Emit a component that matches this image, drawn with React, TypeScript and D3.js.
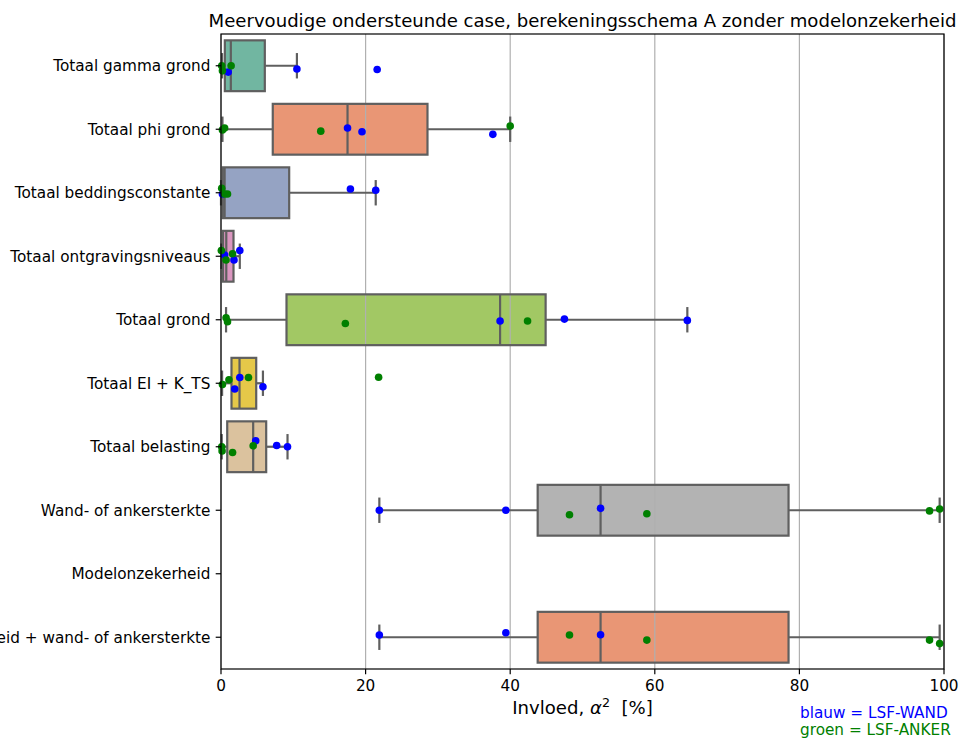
import React from "react";
import * as d3 from "d3";

// Categories shown on the y axis (top to bottom)
const categories = [
  "Totaal gamma grond",
  "Totaal phi grond",
  "Totaal beddingsconstante",
  "Totaal ontgravingsniveaus",
  "Totaal grond",
  "Totaal EI + K_TS",
  "Totaal belasting",
  "Wand- of ankersterkte",
  "Modelonzekerheid",
  "Modelonzekerheid + wand- of ankersterkte",
];

// Box statistics per category (null = no data)
const boxQ1 = [0.53, 7.16, 0.25, 0.28, 9.06, 1.45, 0.86, 43.8, null, 43.8];
const boxMedian = [1.36, 17.5, 0.5, 0.73, 38.6, 2.56, 4.45, 52.5, null, 52.5];
const boxQ3 = [6.06, 28.56, 9.43, 1.73, 44.9, 4.87, 6.25, 78.5, null, 78.5];
const whiskerLow = [0.15, 0.2, 0.0, 0.05, 0.7, 0.15, 0.1, 21.9, null, 21.9];
const whiskerHigh = [10.5, 40.0, 21.4, 2.6, 64.5, 5.8, 9.2, 99.4, null, 99.4];

// Influence values per category, LSF-WAND (blue)
const wandValues = [
  [1.0, 10.5, 21.6],
  [17.5, 19.5, 37.6],
  [0.2, 17.9, 21.4],
  [0.5, 1.8, 2.6],
  [38.6, 47.5, 64.5],
  [1.9, 2.6, 5.8],
  [4.8, 7.7, 9.2],
  [21.9, 39.4, 52.5],
  [],
  [21.9, 39.4, 52.5],
];
// strip jitter, as fraction of the category band
const wandJitter = [
  [0.1, 0.05, 0.06],
  [-0.02, 0.04, 0.08],
  [0.02, -0.06, -0.04],
  [-0.02, 0.06, -0.09],
  [0.02, -0.01, 0.01],
  [0.09, -0.09, 0.055],
  [-0.095, -0.02, 0.0],
  [0.0, 0.0, -0.03],
  [],
  [-0.035, -0.07, -0.04],
];

// Influence values per category, LSF-ANKER (green)
const ankerValues = [
  [0.1, 0.2, 1.4],
  [0.2, 0.5, 13.8, 40.0],
  [0.1, 0.5, 0.9],
  [0.05, 0.7, 1.6],
  [0.7, 0.9, 17.2, 42.4],
  [0.2, 1.1, 3.8, 21.8],
  [0.1, 0.15, 1.6, 4.45],
  [48.2, 58.9, 98.0, 99.4],
  [],
  [48.2, 58.9, 98.0, 99.4],
];
const ankerJitter = [
  [0.0, 0.08, 0.0],
  [0.01, -0.02, 0.03, -0.05],
  [-0.07, 0.02, 0.02],
  [-0.09, 0.06, -0.04],
  [-0.03, 0.03, 0.06, 0.02],
  [0.02, -0.055, -0.09, -0.095],
  [0.0, 0.065, 0.09, -0.015],
  [0.07, 0.055, 0.01, -0.02],
  [],
  [-0.035, 0.045, 0.045, 0.1],
];

const xTicks = [0, 20, 40, 60, 80, 100];

// seaborn Set2 palette at 0.75 saturation
const palette = [
  "#71b6a1",
  "#e99675",
  "#95a3c3",
  "#db96c0",
  "#a2c864",
  "#e5c849",
  "#dbc29e",
  "#b3b3b3",
];

const W = 960;
const H = 738;
const left = 221;
const right = 944;
const top = 34;
const bottom = 669;
const FONT = "'DejaVu Sans', sans-serif";
const LINE = "#5f5f5f";

export default function App() {
  const x = d3.scaleLinear().domain([0, 100]).range([left, right]);
  const y = d3.scaleBand<string>().domain(categories).range([top, bottom]).padding(0);
  const bw = y.bandwidth();
  const boxH = bw * 0.8;
  const capH = boxH * 0.5;
  const r = 3.8;

  const center = (i: number) => (y(categories[i]) as number) + bw / 2;

  return (
    <svg
      width={W}
      height={H}
      style={{ position: "absolute", left: 0, top: 0, background: "#fff" }}
      fontFamily={FONT}
    >
      {/* boxes */}
      {categories.map((c, i) => {
        const q1 = boxQ1[i];
        const q3 = boxQ3[i];
        if (q1 == null || q3 == null) return null;
        const cy = center(i);
        return (
          <rect
            key={"box" + i}
            x={x(q1)}
            y={cy - boxH / 2}
            width={x(q3) - x(q1)}
            height={boxH}
            fill={palette[i % palette.length]}
          />
        );
      })}

      {/* grid */}
      {xTicks.map((t) => (
        <line
          key={"g" + t}
          x1={x(t)}
          x2={x(t)}
          y1={top}
          y2={bottom}
          stroke="#b0b0b0"
          strokeWidth={1.2}
        />
      ))}

      {/* box outlines, whiskers, caps, medians */}
      {categories.map((c, i) => {
        const q1 = boxQ1[i];
        const q3 = boxQ3[i];
        const med = boxMedian[i];
        const lo = whiskerLow[i];
        const hi = whiskerHigh[i];
        if (q1 == null || q3 == null || med == null || lo == null || hi == null) return null;
        const cy = center(i);
        return (
          <g key={"bl" + i} stroke={LINE} strokeWidth={2.2} fill="none">
            <rect x={x(q1)} y={cy - boxH / 2} width={x(q3) - x(q1)} height={boxH} />
            <line x1={x(lo)} x2={x(q1)} y1={cy} y2={cy} />
            <line x1={x(q3)} x2={x(hi)} y1={cy} y2={cy} />
            <line x1={x(lo)} x2={x(lo)} y1={cy - capH / 2} y2={cy + capH / 2} />
            <line x1={x(hi)} x2={x(hi)} y1={cy - capH / 2} y2={cy + capH / 2} />
            <line x1={x(med)} x2={x(med)} y1={cy - boxH / 2} y2={cy + boxH / 2} />
          </g>
        );
      })}

      {/* strip points */}
      {wandValues.map((vals, i) =>
        vals.map((v, j) => (
          <circle
            key={"w" + i + "-" + j}
            cx={x(v)}
            cy={center(i) + wandJitter[i][j] * bw}
            r={r}
            fill="#0000ff"
          />
        ))
      )}
      {ankerValues.map((vals, i) =>
        vals.map((v, j) => (
          <circle
            key={"a" + i + "-" + j}
            cx={x(v)}
            cy={center(i) + ankerJitter[i][j] * bw}
            r={r}
            fill="#008000"
          />
        ))
      )}

      {/* spines */}
      <rect
        x={left}
        y={top}
        width={right - left}
        height={bottom - top}
        fill="none"
        stroke="#000"
        strokeWidth={1.2}
      />

      {/* y axis ticks & labels */}
      {categories.map((c, i) => {
        const cy = center(i);
        return (
          <g key={"yt" + i}>
            <line x1={left - 5.3} x2={left} y1={cy} y2={cy} stroke="#000" strokeWidth={1.2} />
            <text
              x={left - 10.6}
              y={cy}
              dy="0.36em"
              textAnchor="end"
              fontSize={15.28}
              fill="#000"
            >
              {c}
            </text>
          </g>
        );
      })}

      {/* x axis ticks & labels */}
      {xTicks.map((t) => (
        <g key={"xt" + t}>
          <line x1={x(t)} x2={x(t)} y1={bottom} y2={bottom + 5.3} stroke="#000" strokeWidth={1.2} />
          <text x={x(t)} y={691} textAnchor="middle" fontSize={15.28} fill="#000">
            {t}
          </text>
        </g>
      ))}

      {/* x axis label */}
      <text x={(left + right) / 2} y={714} textAnchor="middle" fontSize={18.1} fill="#000" xmlSpace="preserve">
        <tspan>Invloed, </tspan>
        <tspan fontStyle="italic">α</tspan>
        <tspan fontSize={12.7} dy={-7.5}>2</tspan>
        <tspan dy={7.5}>{"  [%]"}</tspan>
      </text>

      {/* title */}
      <text x={(left + right) / 2} y={27} textAnchor="middle" fontSize={18.1} fill="#000">
        Meervoudige ondersteunde case, berekeningsschema A zonder modelonzekerheid
      </text>

      {/* colour key */}
      <text x={800} y={718} fontSize={15.28} fill="#0000ff">
        blauw = LSF-WAND
      </text>
      <text x={800} y={735} fontSize={15.28} fill="#008000">
        groen = LSF-ANKER
      </text>
    </svg>
  );
}
